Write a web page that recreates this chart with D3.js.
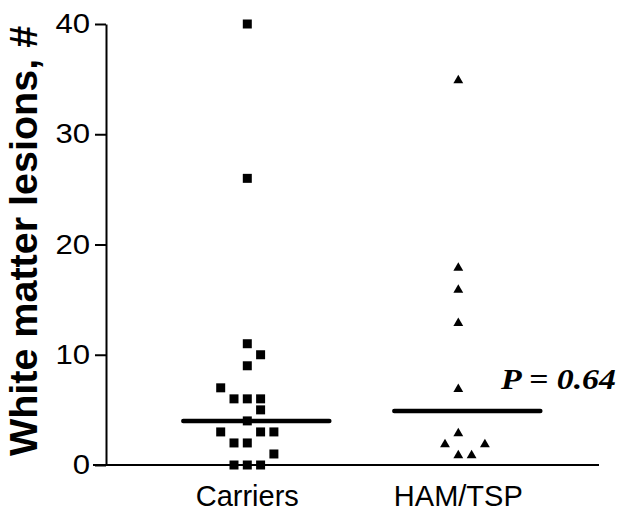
<!DOCTYPE html>
<html><head><meta charset="utf-8">
<script src="https://cdn.jsdelivr.net/npm/d3@7"></script>
<style>html,body{margin:0;padding:0;background:#fff;}svg{display:block;}</style>
</head><body>
<svg id="chart" width="628" height="522"></svg>
<script>
// ---- data ----
const categories = ["Carriers", "HAM/TSP"];
const carrierValues = [40, 26, 11, 10, 9, 7, 6, 6, 6, 5, 4, 3, 3, 3, 2, 2, 1, 0, 0, 0];
const carrierSlots  = [0, 0, 0, 1, 0, -2, -1, 0, 1, 1, 0, -2, 1, 2, -1, 0, 2, -1, 0, 1];
const hamValues = [35, 18, 16, 13, 7, 3, 2, 2, 1, 1];
const hamSlots  = [0, 0, 0, 0, 0, 0, -1, 2, 0, 1];
const medians = [4, 4.9];
const yTicks = [0, 10, 20, 30, 40];
const yTitle = "White matter lesions, #";
const pLabel = "P = 0.64";

// ---- layout ----
const svg = d3.select("#chart");
const y = d3.scaleLinear().domain([0, 40]).range([465, 24]);
const x = d3.scalePoint().domain(categories).range([247.3, 458.3]);
const axisX = 106, slotW = 13.3;
const font = "'Liberation Sans', Arial, Helvetica, sans-serif";

// y axis
const ya = svg.append("g").attr("transform", `translate(${axisX},0)`)
  .call(d3.axisLeft(y).tickValues(yTicks).tickSize(11).tickSizeOuter(0).tickPadding(5));
ya.select(".domain").attr("stroke", "#000").attr("stroke-width", 2);
ya.selectAll(".tick line").attr("stroke", "#000").attr("stroke-width", 2);
ya.selectAll(".tick text")
  .attr("font-family", font).attr("font-size", 27).attr("fill", "#000")
  .attr("textLength", d => String(d).length * 17.3)
  .attr("lengthAdjust", "spacingAndGlyphs");

// x axis line
svg.append("line")
  .attr("x1", axisX - 13).attr("x2", 599)
  .attr("y1", y(0)).attr("y2", y(0))
  .attr("stroke", "#000").attr("stroke-width", 2);

// x labels
svg.selectAll("text.xlab").data(categories).enter().append("text")
  .attr("class", "xlab")
  .attr("x", d => x(d)).attr("y", 505.5)
  .attr("text-anchor", "middle")
  .attr("font-family", font).attr("font-size", 29).attr("fill", "#000")
  .text(d => d);

// y title
svg.append("text")
  .attr("transform", "translate(37,241) rotate(-90)")
  .attr("text-anchor", "middle")
  .attr("font-family", font).attr("font-weight", "bold").attr("font-size", 39.5)
  .attr("fill", "#000")
  .text(yTitle);

// median lines
svg.selectAll("line.med").data(categories).enter().append("line")
  .attr("class", "med")
  .attr("x1", d => x(d) - 64).attr("x2", d => x(d) + 82)
  .attr("y1", (d, i) => y(medians[i])).attr("y2", (d, i) => y(medians[i]))
  .attr("stroke", "#000").attr("stroke-width", 4.5).attr("stroke-linecap", "round");

// carriers squares
const sq = d3.symbol().type(d3.symbolSquare).size(81);
svg.selectAll("path.car").data(carrierValues).enter().append("path")
  .attr("class", "car")
  .attr("d", sq)
  .attr("transform", (d, i) => `translate(${x("Carriers") + carrierSlots[i] * slotW},${y(d)})`)
  .attr("fill", "#000");

// HAM/TSP triangles
const tri = d3.symbol().type(d3.symbolTriangle).size(42);
svg.selectAll("path.ham").data(hamValues).enter().append("path")
  .attr("class", "ham")
  .attr("d", tri)
  .attr("transform", (d, i) => `translate(${x("HAM/TSP") + hamSlots[i] * slotW},${y(d) + 1.4})`)
  .attr("fill", "#000");

// P value
svg.append("text")
  .attr("x", 501).attr("y", 389)
  .attr("font-family", "'Liberation Serif', 'Times New Roman', serif")
  .attr("font-weight", "bold").attr("font-style", "italic")
  .attr("font-size", 29).attr("fill", "#000")
  .attr("textLength", 115).attr("lengthAdjust", "spacingAndGlyphs")
  .text(pLabel);
</script>
</body></html>
